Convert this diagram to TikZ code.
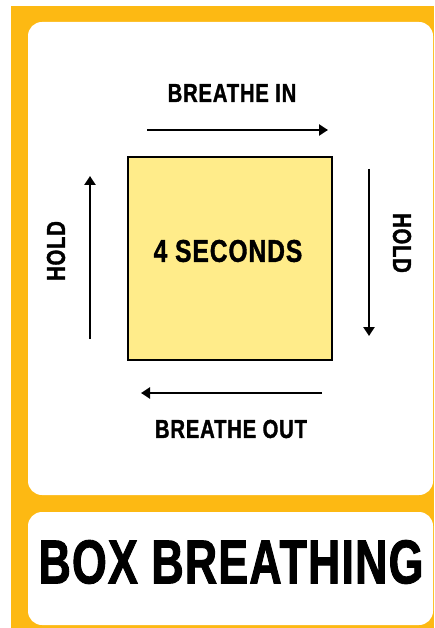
\documentclass[tikz,border=0pt]{standalone}
\usepackage{fontspec}
\newfontfamily\cuefont{Liberation Sans}[FakeStretch=0.78, FakeBold=1.2, LetterSpace=3]
\newfontfamily\titlefont{Liberation Sans}[FakeStretch=0.72, FakeBold=1.5, LetterSpace=2]
\usetikzlibrary{arrows.meta, positioning}
\definecolor{cardorange}{HTML}{FDB913}
\definecolor{boxyellow}{HTML}{FFEC8A}

\begin{document}
\begin{tikzpicture}[
		x=1pt, y=-1pt,
		% White panels on the orange card
		panel/.style={fill=white, rounded corners=14pt},
		% The breathing square
		square/.style={draw=black, line width=2pt, fill=boxyellow, inner sep=0pt},
		% Arrows round the square
		flow/.style={-{Triangle[length=9pt, width=11pt]}, line width=2.8pt},
		cue/.style={font=\cuefont\bfseries\fontsize{26}{26}\selectfont, inner sep=0pt},
		title/.style={font=\titlefont\bfseries\fontsize{62}{62}\selectfont, inner sep=0pt}
		]
		
		\useasboundingbox (0,0) rectangle (434,628);
		
		% --- CARD ---
		\fill[cardorange] (11,6) rectangle (434,628);
		\fill[panel] (28,22) rectangle (433,495);
		\fill[panel] (28,512) rectangle (433,625);
		
		% --- SQUARE ---
		\node[square, minimum width=204pt, minimum height=202pt] (box) at (229.5,258.5) {};
		\node[cue, font=\cuefont\bfseries\fontsize{31.5}{31.5}\selectfont] (secs) at (228,251) {4 SECONDS};
		
		% --- ARROWS ---
		\coordinate (in-a) at (147,130);
		\coordinate (in-b) at (328,130);
		\coordinate (right-a) at (369,169);
		\coordinate (right-b) at (369,336);
		\coordinate (out-a) at (322,393);
		\coordinate (out-b) at (141,393);
		\coordinate (left-a) at (90,339);
		\coordinate (left-b) at (90,176);
		
		\draw[flow] (in-a) -- (in-b);
		\draw[flow] (right-a) -- (right-b);
		\draw[flow] (out-a) -- (out-b);
		\draw[flow] (left-a) -- (left-b);
		
		% --- LABELS ---
		\node[cue] (inlabel) at (232,93) {BREATHE IN};
		\node[cue, rotate=-90] (rightlabel) at (402,243) {HOLD};
		\node[cue] (outlabel) at (231,429) {BREATHE OUT};
		\node[cue, rotate=90] (leftlabel) at (56,251) {HOLD};
		
		\node[title] (cardtitle) at (231,562) {BOX BREATHING};
		
	\end{tikzpicture}
\end{document}
